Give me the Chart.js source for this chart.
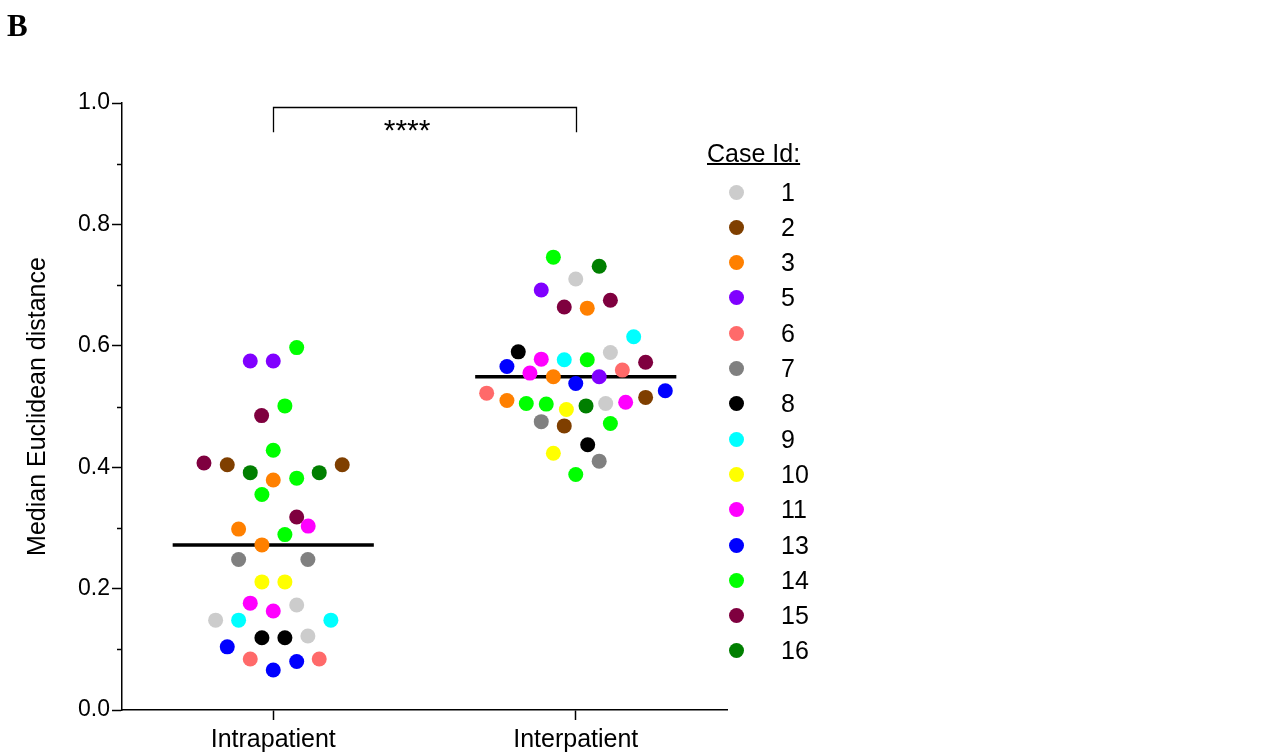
<!DOCTYPE html>
<html>
<head>
<meta charset="utf-8">
<script src="https://cdn.jsdelivr.net/npm/chart.js@4.4.1/dist/chart.umd.min.js"></script>
<style>
  body { margin: 0; background: #fff; }
  #wrap { position: relative; width: 1277px; height: 756px; }
  #panel {
    position: absolute; left: 7px; top: 8px; line-height: 30px;
    font: bold 31px "Liberation Serif", "Times New Roman", serif; color: #000;
  }
  #legendTitle {
    position: absolute; left: 707px; top: 138px; line-height: 30px;
    font-size: 25px; font-family: "Liberation Sans", Arial, sans-serif;
    text-decoration: underline; text-decoration-thickness: 2px; color: #000;
  }
  .legRow { position: absolute; left: 0; width: 900px; height: 35px; }
  .legDot { position: absolute; width: 15px; height: 15px; border-radius: 50%; left: 729px; top: 10px; }
  .legText {
    position: absolute; left: 781px; top: 0; line-height: 35px;
    font-size: 25px; font-family: "Liberation Sans", Arial, sans-serif; color: #000;
  }
</style>
</head>
<body>
<div id="wrap">
  <canvas id="dotChart" width="1277" height="756"></canvas>
  <div id="panel">B</div>
  <div id="legendTitle">Case Id:</div>
  <div id="legend"></div>
</div>
<script>
// Groups on the x axis
const groupLabels = ["Intrapatient", "Interpatient"];
const groupPos = [1, 3];

// Case ids and their colours
const caseIds = [1, 2, 3, 5, 6, 7, 8, 9, 10, 11, 13, 14, 15, 16];
const caseColors = [
  "#cccccc", "#7f3f00", "#ff8000", "#8000ff", "#ff6a6a", "#808080", "#000000",
  "#00ffff", "#ffff00", "#ff00ff", "#0000ff", "#00ff00", "#7f003f", "#007f00",
];

// Intrapatient: value, case id, horizontal spread (x units)
const intraValues = [
  0.597, 0.575, 0.575, 0.501, 0.485, 0.428, 0.407, 0.404, 0.391, 0.379, 0.382, 0.391,
  0.404, 0.355, 0.318, 0.303, 0.298, 0.289, 0.272, 0.248, 0.248, 0.211, 0.211, 0.176,
  0.173, 0.163, 0.148, 0.148, 0.148, 0.119, 0.119, 0.122, 0.104, 0.084, 0.084, 0.080, 0.066,
];
const intraCases = [
  14, 5, 5, 14, 15, 14, 15, 2, 16, 3, 14, 16,
  2, 14, 15, 11, 3, 14, 3, 7, 7, 10, 10, 11,
  1, 11, 1, 9, 9, 8, 8, 1, 13, 6, 6, 13, 13,
];
const intraJitter = [
  0.155, -0.152, 0, 0.077, -0.077, 0, -0.458, -0.304, -0.152, 0, 0.155, 0.304,
  0.456, -0.075, 0.155, 0.231, -0.229, 0.077, -0.075, -0.229, 0.229, -0.075, 0.077, -0.152,
  0.155, 0, -0.381, -0.229, 0.381, -0.075, 0.077, 0.229, -0.304, -0.152, 0.304, 0.155, 0,
];

// Interpatient: value, case id, horizontal spread (x units)
const interValues = [
  0.746, 0.731, 0.710, 0.692, 0.675, 0.664, 0.662, 0.615, 0.590, 0.589, 0.578, 0.577,
  0.577, 0.573, 0.566, 0.560, 0.555, 0.549, 0.549, 0.538, 0.526, 0.522, 0.515, 0.510,
  0.507, 0.505, 0.504, 0.505, 0.501, 0.495, 0.475, 0.472, 0.468, 0.437, 0.423, 0.410, 0.388,
];
const interCases = [
  14, 16, 1, 5, 15, 15, 3, 9, 8, 1, 11, 9,
  14, 15, 13, 6, 11, 3, 5, 13, 13, 6, 2, 3,
  11, 14, 14, 1, 16, 10, 7, 14, 2, 8, 10, 7, 14,
];
const interJitter = [
  -0.148, 0.155, 0, -0.228, 0.229, -0.076, 0.076, 0.383, -0.380, 0.229, -0.228, -0.076,
  0.076, 0.462, -0.455, 0.308, -0.303, -0.148, 0.155, 0, 0.592, -0.589, 0.462, -0.455,
  0.330, -0.327, -0.195, 0.198, 0.068, -0.062, -0.228, 0.229, -0.076, 0.079, -0.148, 0.155, 0,
];

const FONT = '"Liberation Sans", Arial, sans-serif';
const MEDIAN_HALF_WIDTH = 0.665;
const MINOR_TICKS = [0.1, 0.3, 0.5, 0.7, 0.9];
const bracket = { from: 1, to: 3, top: 0.993, bottom: 0.952, label: "****", labelX: 1.885 };

const groups = [
  { pos: groupPos[0], values: intraValues, cases: intraCases, jitter: intraJitter },
  { pos: groupPos[1], values: interValues, cases: interCases, jitter: interJitter },
];

function median(arr) {
  const s = [...arr].sort((a, b) => a - b);
  const m = Math.floor(s.length / 2);
  return s.length % 2 ? s[m] : (s[m - 1] + s[m]) / 2;
}

// One scatter dataset per case id
const caseDatasets = caseIds.map((id, i) => {
  const pts = [];
  groups.forEach((g) => {
    g.values.forEach((v, k) => {
      if (g.cases[k] === id) pts.push({ x: g.pos + g.jitter[k], y: v });
    });
  });
  return {
    type: "scatter",
    label: String(id),
    data: pts,
    backgroundColor: caseColors[i],
    borderWidth: 0,
    pointRadius: 7.5,
    pointHoverRadius: 7.5,
    order: 0,
  };
});

// Median bars, drawn underneath the dots
const medianDatasets = groups.map((g) => {
  const m = median(g.values);
  return {
    type: "line",
    data: [
      { x: g.pos - MEDIAN_HALF_WIDTH, y: m },
      { x: g.pos + MEDIAN_HALF_WIDTH, y: m },
    ],
    borderColor: "#000",
    borderWidth: 3.5,
    pointRadius: 0,
    order: 1,
  };
});

// Minor y ticks + significance bracket
const extrasPlugin = {
  id: "extras",
  afterDraw(chart) {
    const { ctx, scales } = chart;
    const x = scales.x, y = scales.y;
    ctx.save();
    ctx.strokeStyle = "#000";
    ctx.lineWidth = 1.5;
    MINOR_TICKS.forEach((v) => {
      const py = Math.round(y.getPixelForValue(v)) + 0.5;
      ctx.beginPath();
      ctx.moveTo(x.left - 5, py);
      ctx.lineTo(x.left, py);
      ctx.stroke();
    });

    const x1 = Math.round(x.getPixelForValue(bracket.from)) + 0.5;
    const x2 = Math.round(x.getPixelForValue(bracket.to)) + 0.5;
    const yt = Math.round(y.getPixelForValue(bracket.top)) + 0.5;
    const yb = y.getPixelForValue(bracket.bottom);
    ctx.lineWidth = 1.3;
    ctx.beginPath();
    ctx.moveTo(x1, yb);
    ctx.lineTo(x1, yt);
    ctx.lineTo(x2, yt);
    ctx.lineTo(x2, yb);
    ctx.stroke();

    ctx.fillStyle = "#000";
    ctx.font = "30px " + FONT;
    ctx.textAlign = "center";
    ctx.textBaseline = "alphabetic";
    ctx.fillText(bracket.label, x.getPixelForValue(bracket.labelX), yt + 32);
    ctx.restore();
  },
};

new Chart(document.getElementById("dotChart"), {
  data: { datasets: [...caseDatasets, ...medianDatasets] },
  options: {
    responsive: false,
    animation: false,
    devicePixelRatio: 1,
    layout: { padding: { left: 0, right: 550, top: 103, bottom: 0 } },
    plugins: { legend: { display: false }, tooltip: { enabled: false } },
    scales: {
      x: {
        type: "linear",
        min: 0,
        max: 4,
        afterBuildTicks: (s) => {
          s.ticks = groupPos.map((v) => ({ value: v }));
        },
        afterFit: (s) => {
          s.height = 46;
        },
        ticks: {
          callback: (v) => groupLabels[groupPos.indexOf(v)],
          font: { size: 25, family: FONT },
          color: "#000",
          padding: 5,
          maxRotation: 0,
          autoSkip: false,
        },
        grid: { drawOnChartArea: false, tickLength: 10, tickColor: "#000", tickWidth: 1.5 },
        border: { color: "#000", width: 1.5 },
      },
      y: {
        min: 0,
        max: 1,
        afterFit: (s) => {
          s.width = 122;
        },
        ticks: {
          stepSize: 0.2,
          callback: (v) => v.toFixed(1),
          font: { size: 23, family: FONT },
          color: "#000",
          padding: 2,
        },
        grid: { drawOnChartArea: false, tickLength: 10, tickColor: "#000", tickWidth: 1.5 },
        border: { color: "#000", width: 1.5 },
        title: {
          display: true,
          text: "Median Euclidean distance",
          font: { size: 25, family: FONT },
          color: "#000",
          padding: { top: 23, bottom: 0 },
        },
      },
    },
  },
  plugins: [extrasPlugin],
});

// HTML legend built from the case arrays
const legend = document.getElementById("legend");
caseIds.forEach((id, i) => {
  const row = document.createElement("div");
  row.className = "legRow";
  row.style.top = (192 + i * 35.3 - 17.5).toFixed(1) + "px";
  const dot = document.createElement("div");
  dot.className = "legDot";
  dot.style.background = caseColors[i];
  const txt = document.createElement("div");
  txt.className = "legText";
  txt.textContent = String(id);
  row.appendChild(dot);
  row.appendChild(txt);
  legend.appendChild(row);
});
</script>
</body>
</html>
